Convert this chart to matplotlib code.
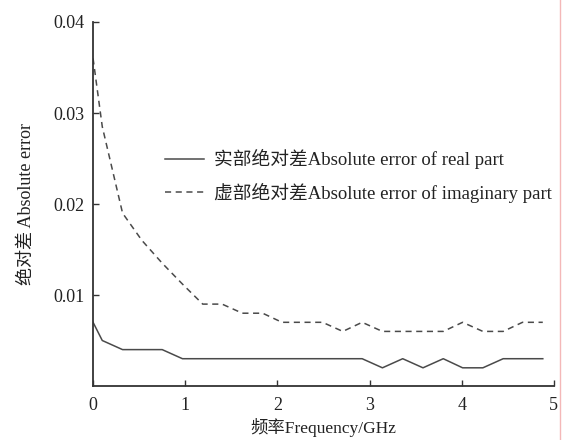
import matplotlib
matplotlib.use("Agg")
import matplotlib.pyplot as plt
from matplotlib.lines import Line2D

plt.rcParams['font.family'] = ['Liberation Serif', 'Noto Sans CJK SC', 'DejaVu Sans']

freq = [0, 0.1, 0.32, 0.53, 0.75, 0.97, 1.19, 1.4, 1.62, 1.84, 2.05, 2.27,
        2.49, 2.71, 2.92, 3.14, 3.36, 3.58, 3.8, 4.01, 4.23, 4.45, 4.66, 4.88]
real_err = [0.007, 0.005, 0.004, 0.004, 0.004, 0.003, 0.003, 0.003, 0.003, 0.003,
            0.003, 0.003, 0.003, 0.003, 0.003, 0.002, 0.003, 0.002, 0.003, 0.002,
            0.002, 0.003, 0.003, 0.003]
imag_err = [0.036, 0.0285, 0.019, 0.016, 0.0135, 0.0112, 0.009, 0.009, 0.008, 0.008,
            0.007, 0.007, 0.007, 0.006, 0.007, 0.006, 0.006, 0.006, 0.006, 0.007,
            0.006, 0.006, 0.007, 0.007]

xticks = [0, 1, 2, 3, 4, 5]
yticks = [0.01, 0.02, 0.03, 0.04]
ytick_labels = ['0.01', '0.02', '0.03', '0.04']

label_real = '实部绝对差Absolute error of real part'
label_imag = '虚部绝对差Absolute error of imaginary part'
xlabel = '频率Frequency/GHz'
ylabel = '绝对差 Absolute error'

fig = plt.figure(figsize=(5.64, 4.40), dpi=100)
ax = fig.add_axes([0.165, 0.1227, 0.817, 0.8273])

line_color = '#4a4a4a'
ax.plot(freq, real_err, color=line_color, lw=1.1, label=label_real)
ax.plot(freq, imag_err, color=line_color, lw=1.1, ls=(0, (4, 3)), label=label_imag)

ax.set_xlim(0, 5)
ax.set_ylim(0, 0.04)
ax.set_xticks(xticks)
ax.set_xticklabels([str(t) for t in xticks])
ax.set_yticks(yticks)
ax.set_yticklabels(ytick_labels)

for s in ['top', 'right']:
    ax.spines[s].set_visible(False)
for s in ['left', 'bottom']:
    ax.spines[s].set_linewidth(1.3)
    ax.spines[s].set_color('#333333')
ax.tick_params(direction='in', length=4, width=1.0, colors='#333333',
               labelsize=13, labelcolor='#222222')
ax.tick_params(axis='x', pad=8)
ax.tick_params(axis='y', pad=6)

ax.set_xlabel(xlabel, fontsize=12.5, color='#222222', labelpad=3)
ax.set_ylabel(ylabel, fontsize=13, color='#222222', labelpad=13)

leg = ax.legend(loc='upper left', bbox_to_anchor=(0.14, 0.671), frameon=False,
                fontsize=13.5, handlelength=2.1, handletextpad=0.5,
                labelspacing=0.7, borderaxespad=0)
for t in leg.get_texts():
    t.set_color('#222222')

fig.add_artist(Line2D([560 / 564, 560 / 564], [0, 1], color='#f4b8b8', lw=1.0,
                      transform=fig.transFigure))

fig.savefig('out.png', dpi=100)
